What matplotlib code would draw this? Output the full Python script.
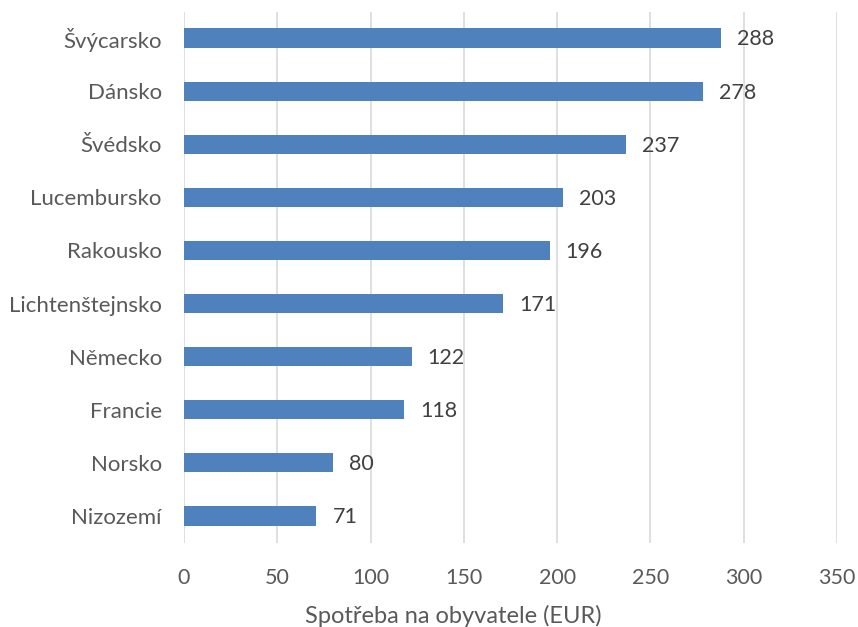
import matplotlib
matplotlib.use('Agg')
import matplotlib.pyplot as plt
import numpy as np

countries = ['Švýcarsko', 'Dánsko', 'Švédsko', 'Lucembursko', 'Rakousko',
             'Lichtenštejnsko', 'Německo', 'Francie', 'Norsko', 'Nizozemí']
values = [288, 278, 237, 203, 196, 171, 122, 118, 80, 71]
x_ticks = [0, 50, 100, 150, 200, 250, 300, 350]
x_label = 'Spotřeba na obyvatele (EUR)'

plt.rcParams['font.family'] = ['Lato', 'DejaVu Sans']

fig = plt.figure(figsize=(8.58, 6.27), dpi=100)
ax = fig.add_axes([184 / 858, 1 - 542.5 / 627, 653 / 858, 531 / 627])

y = np.arange(len(countries))
ax.barh(y, values, height=0.36, color='#4f81bd', zorder=3)

for yi, v in zip(y, values):
    ax.annotate(str(v), (v, yi), xytext=(11.5, -1), textcoords='offset points',
                ha='left', va='center', fontsize=15.5, color='#404040')

ax.set_xlim(0, 350)
ax.set_ylim(len(countries) - 0.5, -0.5)
ax.set_yticks(y)
ax.set_yticklabels(countries)
ax.set_xticks(x_ticks)
ax.xaxis.grid(True, color='#d9d9d9', linewidth=1.2, zorder=0)
ax.tick_params(axis='x', length=0, labelsize=15.5, colors='#595959', pad=18)
ax.tick_params(axis='y', length=0, labelsize=16, colors='#595959', pad=16)
for s in ax.spines.values():
    s.set_visible(False)

# axis title is centred on the chart, not the plot area (Excel style)
fig.text(453 / 858, 1 - 623 / 627, x_label, ha='center', va='baseline',
         fontsize=17, color='#595959')

fig.savefig('out.png', dpi=100)
